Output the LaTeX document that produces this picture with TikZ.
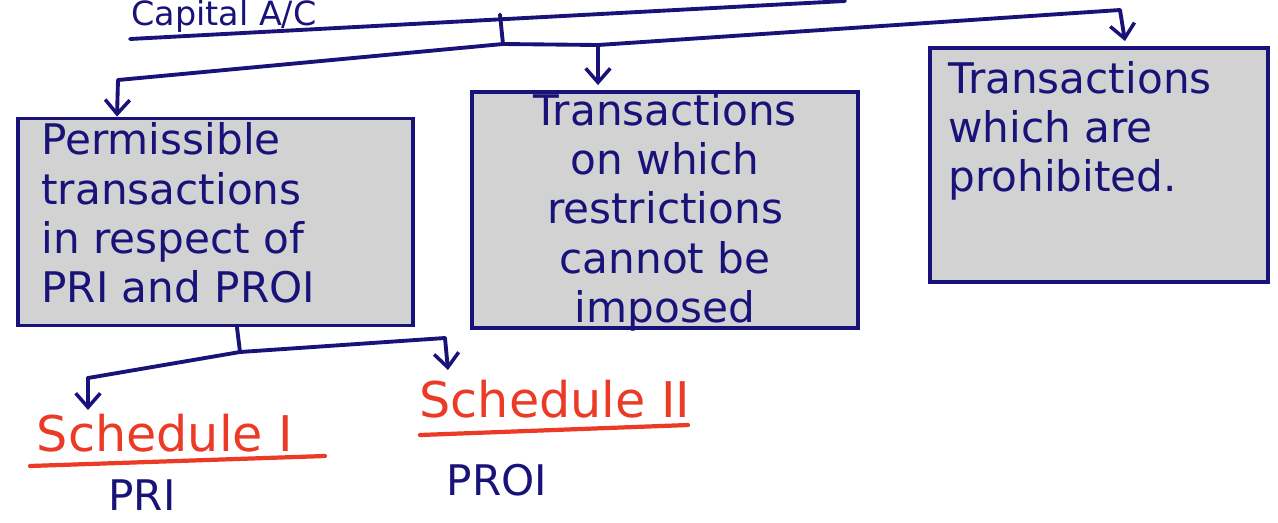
\documentclass[tikz,border=0pt]{standalone}
\usepackage{fontspec}
\usepackage{xcolor}
\usetikzlibrary{arrows.meta,positioning}
\setmainfont{DejaVu Sans}
\definecolor{ink}{RGB}{25,18,120}
\definecolor{redink}{RGB}{235,58,38}
\definecolor{boxgray}{RGB}{210,210,210}

\begin{document}
\begin{tikzpicture}[x=1cm,y=1cm,
        pen/.style={draw=ink,line width=2.2pt,line cap=round,line join=round},
        redpen/.style={draw=redink,line width=2.4pt,line cap=round},
        arrow edge/.style={pen,-{Straight Barb[length=8pt,width=14pt,line width=2pt]}},
        box/.style={rectangle,draw=ink,fill=boxgray,line width=2.2pt,inner sep=0pt},
        box text/.style={text=ink,inner sep=0pt,font=\fontsize{24}{28}\selectfont},
        red text/.style={text=redink,inner sep=0pt,font=\fontsize{28}{32}\selectfont},
        plain text/.style={text=ink,inner sep=0pt,font=\fontsize{24}{28}\selectfont}
      ]
      \useasboundingbox (0,0) rectangle (25.56,-10.44);

      % heading
      \node[plain text,font=\fontsize{19}{22}\selectfont,anchor=base west] (cap) at (2.62,-0.5) {Capital A/C};
      \coordinate (ul start) at (2.6,-0.78);
      \coordinate (ul end) at (16.9,-0.02);
      \draw[pen] (ul start) -- (ul end);

      % three boxes
      \node[box,minimum width=7.9cm,minimum height=4.14cm] (perm) at (4.31,-4.44) {};
      \node[box,minimum width=7.72cm,minimum height=4.72cm] (restr) at (13.3,-4.2) {};
      \node[box,minimum width=6.76cm,minimum height=4.68cm] (prohib) at (21.98,-3.3) {};

      \node[box text,anchor=north west,align=left] (perm t)
        at ([shift={(0.5,-0.12)}]perm.north west)
        {Permissible\\transactions\\in respect of\\PRI and PROI};
      \node[box text,anchor=north,align=center] (restr t)
        at ([shift={(0,-0.06)}]restr.north)
        {Transactions\\on which\\restrictions\\cannot be\\imposed};
      \node[box text,anchor=north west,align=left] (prohib t)
        at ([shift={(0.4,-0.3)}]prohib.north west)
        {Transactions\\which are\\prohibited.};

      % branches from the heading
      \coordinate (top) at (10.0,-0.29);
      \coordinate (fork) at (10.06,-0.88);
      \coordinate (mid) at (11.96,-0.9);
      \coordinate (left) at (2.36,-1.6);
      \coordinate (right) at (22.4,-0.2);
      \draw[pen] (top) -- (fork) -- (left);
      \draw[pen] (fork) -- (mid) -- (right);
      \draw[arrow edge] (left) -- ([xshift=-0.02cm]perm.north -| left);
      \draw[arrow edge] (mid) -- ([yshift=0.1cm]restr.north -| mid);
      \draw[arrow edge] (right) -- ([xshift=0.1cm,yshift=0.1cm]prohib.north -| right);

      % schedules
      \node[red text,anchor=base] (sch1) at (3.3,-9.02) {Schedule I};
      \node[red text,anchor=base] (sch2) at (11.1,-8.34) {Schedule II};
      \node[plain text,anchor=base] (pri) at (2.84,-10.2) {PRI};
      \node[plain text,anchor=base] (proi) at (9.94,-9.9) {PROI};
      \coordinate (u1a) at (0.6,-9.32);
      \coordinate (u1b) at (6.5,-9.12);
      \coordinate (u2a) at (8.4,-8.7);
      \coordinate (u2b) at (13.76,-8.5);
      \draw[redpen] (u1a) -- (u1b);
      \draw[redpen] (u2a) -- (u2b);

      \coordinate (drop) at (4.8,-7.04);
      \coordinate (s left) at (1.76,-7.56);
      \coordinate (s right) at (8.9,-6.76);
      \draw[pen] ([xshift=0.43cm]perm.south) -- (drop) -- (s left);
      \draw[pen] (drop) -- (s right);
      \draw[arrow edge] (s left) -- (1.76,-8.2);
      \draw[arrow edge] (s right) -- (8.96,-7.4);
    \end{tikzpicture}
\end{document}
